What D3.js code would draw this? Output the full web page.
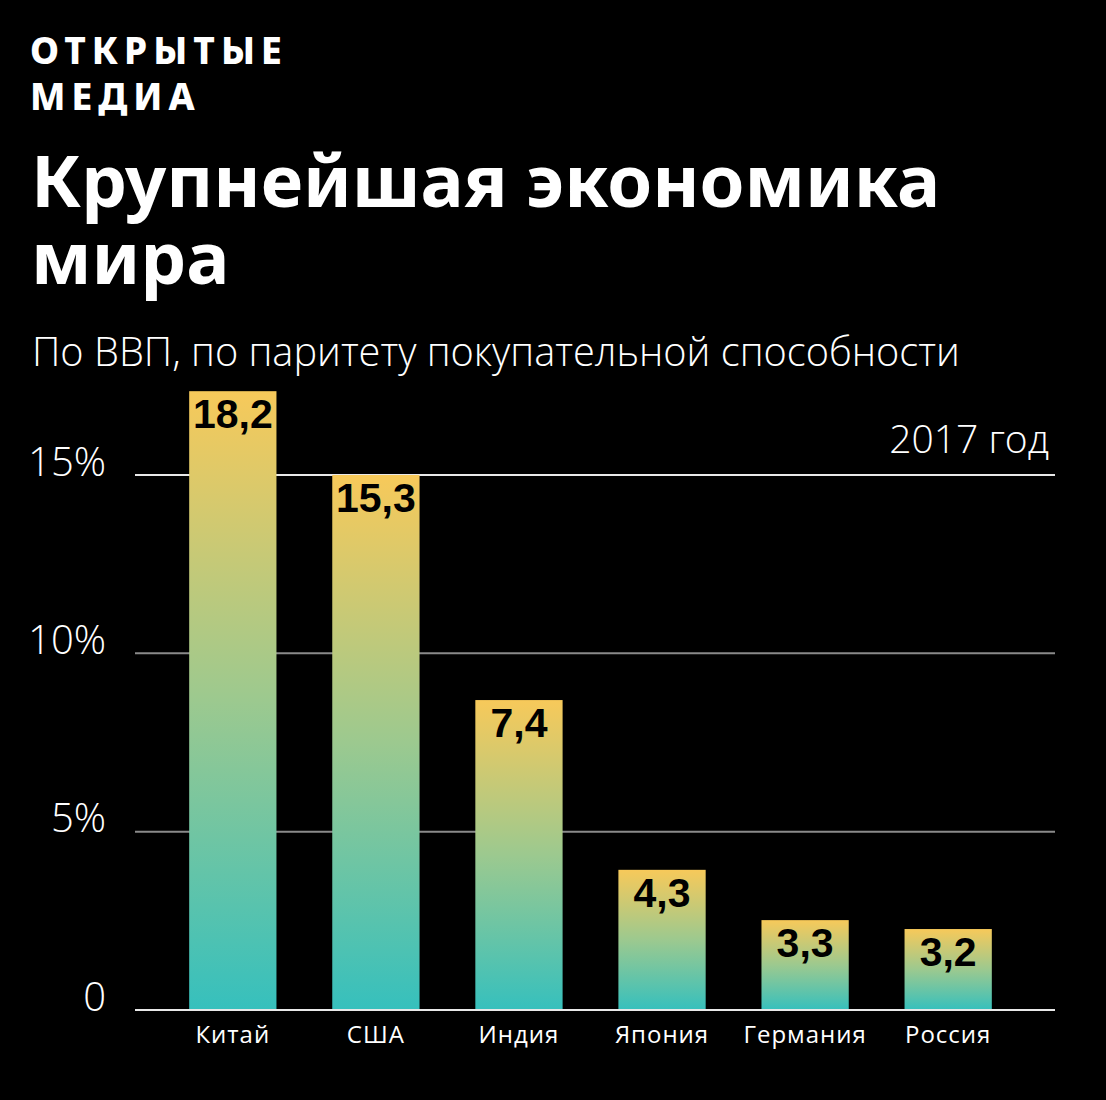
<!DOCTYPE html>
<html><head><meta charset="utf-8">
<script src="https://cdn.jsdelivr.net/npm/d3@7"></script>
<style>
html,body{margin:0;padding:0;background:#000;}
body{position:relative;width:1106px;height:1100px;overflow:hidden;}
svg{display:block;position:absolute;left:0;top:0;}
#title{position:absolute;left:31px;color:#fff;font-family:'Noto Sans',sans-serif;font-weight:700;white-space:nowrap;margin:0;}
</style></head>
<body>
<script>
// ---- data ----
const categories = ["Китай", "США", "Индия", "Япония", "Германия", "Россия"];
// bar heights as drawn in the picture (% of world GDP, PPP)
const barHeights = [17.35, 15.0, 8.69, 3.93, 2.52, 2.27];
// value labels printed on the bars
const valueLabels = ["18,2", "15,3", "7,4", "4,3", "3,3", "3,2"];
const yTicks = [0, 5, 10, 15];
const yTickLabels = ["0", "5%", "10%", "15%"];
const logoLines = ["ОТКРЫТЫЕ", "МЕДИА"];
const titleLines = ["Крупнейшая экономика", "мира"];
const subtitle = "По ВВП, по паритету покупательной способности";
const yearNote = "2017 год";

const W = 1106, H = 1100;
const svg = d3.select("body").append("svg").attr("width", W).attr("height", H);
svg.append("rect").attr("width", W).attr("height", H).attr("fill", "#000");

const defs = svg.append("defs");
const grad = defs.append("linearGradient").attr("id", "barGrad")
  .attr("x1", 0).attr("y1", 0).attr("x2", 0).attr("y2", 1);
grad.append("stop").attr("offset", "0%").attr("stop-color", "#f7c95a");
grad.append("stop").attr("offset", "50%").attr("stop-color", "#9cc98f");
grad.append("stop").attr("offset", "100%").attr("stop-color", "#36c0bd");

function fitText(sel, target) {
  const n = sel.node();
  const w = n.getComputedTextLength();
  const fs = parseFloat(sel.attr("font-size"));
  sel.attr("font-size", (fs * target / w).toFixed(2));
}

// logo
const logo = svg.append("text").attr("x", 30).attr("y", 64)
  .attr("fill", "#fff").attr("font-family", "'Noto Sans', sans-serif").attr("font-weight", 800)
  .attr("font-size", 37).attr("letter-spacing", "6px");
logo.append("tspan").attr("x", 30).attr("y", 64).text(logoLines[0]);
logo.append("tspan").attr("x", 30).attr("y", 110).text(logoLines[1]);

// title: one HTML block with two lines
{
  const ctx = document.createElement("canvas").getContext("2d");
  ctx.font = "700 100px 'Noto Sans'";
  const w100 = ctx.measureText(titleLines[0]).width;
  const fs = 100 * 909 / w100;
  const lh = 77;
  // Noto Sans ascent 1.069em, descent 0.293em
  const content = fs * (1.069 + 0.293);
  const baselineOffset = (lh - content) / 2 + fs * 1.069;
  d3.select("body").append("div").attr("id", "title")
    .style("font-size", fs.toFixed(2) + "px")
    .style("line-height", lh + "px")
    .style("top", (208 - baselineOffset).toFixed(2) + "px")
    .html(titleLines.join("<br>"));
}

// subtitle
const st = svg.append("text").attr("x", 32).attr("y", 366).text(subtitle)
  .attr("fill", "#fff").attr("font-family", "'Open Sans', sans-serif").attr("font-weight", 300)
  .attr("font-size", 36);
fitText(st, 928);

// scales
const x = d3.scaleBand().domain(categories).range([162, 1019]).paddingInner(0.39).paddingOuter(0.19);
const y = d3.scaleLinear().domain([0, 15]).range([1010, 475]);

// gridlines
const grid = svg.append("g").attr("class", "grid");
grid.selectAll("line").data(yTicks).join("line")
  .attr("x1", 135).attr("x2", 1055)
  .attr("y1", d => y(d)).attr("y2", d => y(d))
  .attr("stroke", d => (d === 0 || d === 15) ? "#e8e8e8" : "#8a8a8a")
  .attr("stroke-width", 2);

// y axis labels
const yAxis = d3.axisLeft(y).tickValues(yTicks).tickSize(0)
  .tickFormat((d, i) => yTickLabels[i]);
const ya = svg.append("g").attr("transform", "translate(106,0)").call(yAxis);
ya.select(".domain").remove();
ya.selectAll("text").attr("fill", "#fff").attr("font-family", "'Open Sans', sans-serif")
  .attr("font-weight", 300).attr("font-size", 40).attr("dy", 0).attr("x", 0);

// year note
svg.append("text").attr("x", 1049).attr("y", 453).attr("text-anchor", "end").text(yearNote)
  .attr("fill", "#fff").attr("font-family", "'Open Sans', sans-serif").attr("font-weight", 300)
  .attr("font-size", 39);

// bars
const bars = svg.append("g");
bars.selectAll("rect").data(categories).join("rect")
  .attr("x", d => x(d)).attr("width", x.bandwidth())
  .attr("y", (d, i) => y(barHeights[i]))
  .attr("height", (d, i) => y(0) - y(barHeights[i]))
  .attr("fill", "url(#barGrad)");

// baseline on top
svg.append("line").attr("x1", 135).attr("x2", 1055).attr("y1", y(0)).attr("y2", y(0))
  .attr("stroke", "#e8e8e8").attr("stroke-width", 2);

// value labels
svg.append("g").selectAll("text").data(categories).join("text")
  .attr("x", d => x(d) + x.bandwidth() / 2)
  .attr("y", (d, i) => y(barHeights[i]) + 37)
  .attr("text-anchor", "middle")
  .attr("font-family", "'Liberation Sans', Arial, sans-serif").attr("font-weight", 700)
  .attr("font-size", 41).attr("fill", "#000")
  .text((d, i) => valueLabels[i]);

// x axis labels
const xAxis = d3.axisBottom(x).tickSize(0);
const xa = svg.append("g").attr("transform", "translate(0,1010)").call(xAxis);
xa.select(".domain").remove();
xa.selectAll("text").attr("fill", "#fff").attr("font-family", "'Open Sans', sans-serif")
  .attr("font-weight", 400).attr("font-size", 24).attr("letter-spacing", "1px")
  .attr("dy", 0).attr("y", 33);
</script>
</body></html>
